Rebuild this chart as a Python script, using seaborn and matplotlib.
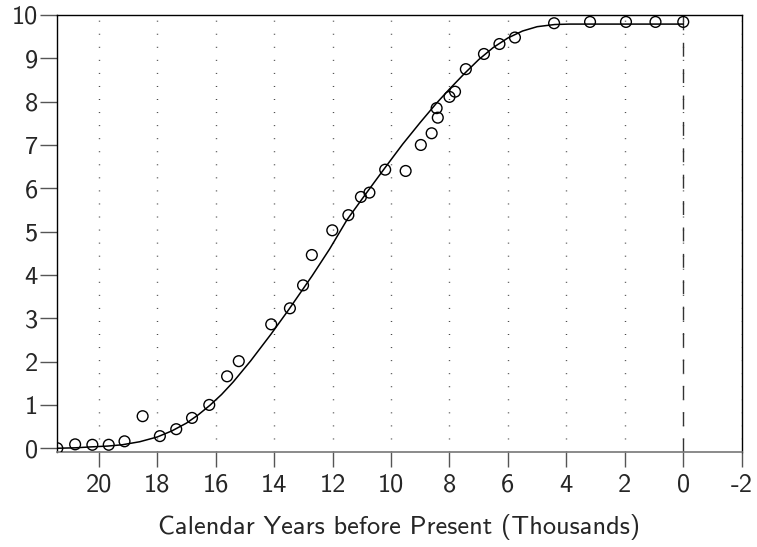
import matplotlib
matplotlib.use("Agg")
import matplotlib.pyplot as plt
import pandas as pd
import seaborn as sns

# observed points (thousands of calendar years BP, value)
obs_x = [21.42, 20.81, 20.22, 19.66, 19.12, 18.50, 17.91, 17.35, 16.81, 16.22,
         15.61, 15.21, 14.10, 13.46, 13.01, 12.71, 12.01, 11.46, 11.03, 10.74,
         10.20, 9.50, 8.98, 8.61, 8.40, 8.44, 8.00, 7.81, 7.44, 6.82,
         6.29, 5.76, 4.42, 3.19, 1.96, 0.95, 0.00]
obs_y = [0.00, 0.09, 0.08, 0.08, 0.16, 0.74, 0.28, 0.44, 0.70, 1.00,
         1.66, 2.01, 2.86, 3.23, 3.76, 4.46, 5.03, 5.38, 5.80, 5.90,
         6.43, 6.40, 7.00, 7.27, 7.63, 7.85, 8.11, 8.23, 8.75, 9.10,
         9.33, 9.48, 9.81, 9.84, 9.84, 9.84, 9.84]

# fitted curve
curve_x = [21.42, 20.8, 20.3, 19.7, 19.2, 18.6, 18.0, 17.5, 17.0, 16.6, 16.2,
           15.8, 15.4, 14.8, 14.1, 13.5, 12.7, 12.1, 11.5, 10.8, 10.2, 9.6,
           9.0, 8.45, 8.0, 7.5, 7.0, 6.5, 6.0, 5.5, 5.0, 4.4, 3.9, 0.0]
curve_y = [0.0, 0.01, 0.03, 0.05, 0.08, 0.15, 0.26, 0.40, 0.58, 0.77, 0.99,
           1.24, 1.53, 2.02, 2.64, 3.20, 3.98, 4.60, 5.28, 5.93, 6.48, 7.02,
           7.52, 7.96, 8.29, 8.64, 8.97, 9.25, 9.47, 9.63, 9.73, 9.78, 9.79, 9.79]

x_ticks = [20, 18, 16, 14, 12, 10, 8, 6, 4, 2, 0, -2]
x_labels = ["20", "18", "16", "14", "12", "10", "8", "6", "4", "2", "0", "-2"]
y_ticks = list(range(0, 11))

obs = pd.DataFrame({"x": obs_x, "y": obs_y})
curve = pd.DataFrame({"x": curve_x, "y": curve_y})

sns.set_style("ticks")
plt.rcParams["font.family"] = ["cmss10", "DejaVu Sans"]
plt.rcParams["axes.unicode_minus"] = False

fig = plt.figure(figsize=(7.57, 5.47), dpi=100)
ax = fig.add_axes([0.0757, 0.1742, 0.9041, 0.7984])

ax.grid(axis="x", color="#444444", linestyle=(0, (0.7, 8.7)), linewidth=1.0)
ax.axvline(0, color="#333333", linestyle=(0, (10, 9)), linewidth=1.0, zorder=2)

sns.lineplot(data=curve, x="x", y="y", ax=ax, color="black", linewidth=1.1,
             zorder=3)
sns.scatterplot(data=obs, x="x", y="y", ax=ax, marker="o", s=60,
                facecolor="none", edgecolor="black", linewidth=1.0, zorder=4)

ax.set_xlim(21.42, -2)
ax.set_ylim(-0.08, 10)
ax.set_xticks(x_ticks)
ax.set_xticklabels(x_labels)
ax.set_yticks(y_ticks)

for side in ["top", "right", "left"]:
    ax.spines[side].set_visible(True)
    ax.spines[side].set_color("black")
    ax.spines[side].set_linewidth(1.0)
ax.spines["bottom"].set_color("#777777")
ax.spines["bottom"].set_linewidth(1.2)

ax.tick_params(axis="x", length=11, width=1.0, color="#555555", pad=5,
               labelsize=19)
ax.tick_params(axis="y", length=12, width=1.0, color="#555555", pad=2,
               labelsize=19)

ax.set_xlabel("Calendar Years before Present (Thousands)", fontsize=19,
              labelpad=12)
ax.set_ylabel("")

fig.savefig("out.png", dpi=100)
